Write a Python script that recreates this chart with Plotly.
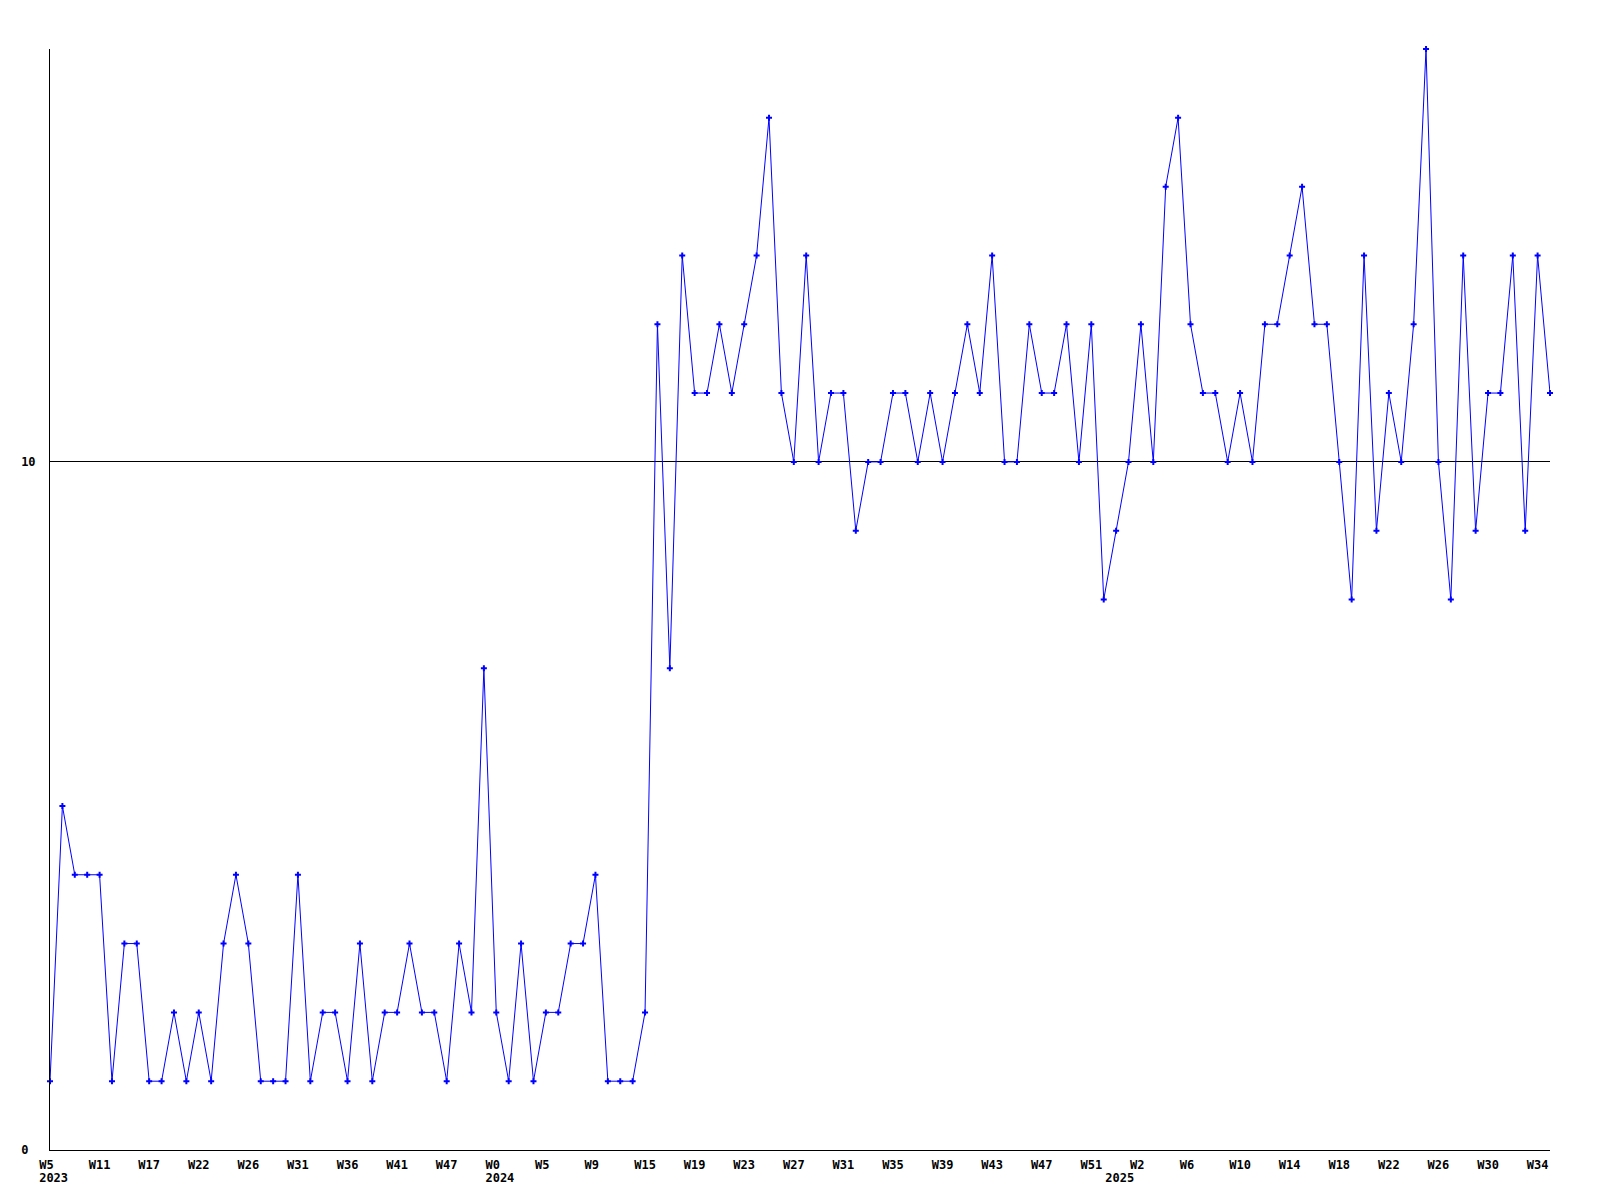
import plotly.graph_objects as go

# Weekly values (one point per sample, in order)
values_2023 = [1, 5, 4, 4, 4, 1, 3, 3, 1, 1, 2, 1, 2, 1, 3, 4, 3, 1, 1, 1, 4, 1, 2, 2, 1, 3,
               1, 2, 2, 3, 2, 2, 1, 3, 2, 7]
values_2024 = [2, 1, 3, 1, 2, 2, 3, 3, 4, 1, 1, 1, 2,
               12, 7, 13, 11, 11, 12, 11, 12, 13, 15, 11, 10, 13, 10, 11, 11, 9, 10, 10, 11, 11,
               10, 11, 10, 11, 12, 11, 13, 10, 10, 12, 11, 11, 12, 10, 12, 8]
values_2025 = [9, 10, 12, 10, 14, 15, 12, 11, 11, 10, 11, 10,
               12, 12, 13, 14, 12, 12, 10, 8, 13, 9, 11, 10, 12, 16, 10, 8, 13, 9, 11, 11, 13, 9, 13, 11]
values = values_2023 + values_2024 + values_2025

# Tick labels: one every 4 samples
week_labels = ["W5", "W11", "W17", "W22", "W26", "W31", "W36", "W41", "W47",
               "W0", "W5", "W9", "W15", "W19", "W23", "W27", "W31", "W35", "W39", "W43", "W47", "W51",
               "W2", "W6", "W10", "W14", "W18", "W22", "W26", "W30", "W34"]
tick_step = 4
year_labels = ["2023", "2024", "2025"]
year_positions = [0, 36, 86]

x = list(range(len(values)))
tickvals = [i * tick_step for i in range(len(week_labels))]
ticktext = [w + "\u00a0" * (3 - len(w)) for w in week_labels]

FONT = dict(family="DejaVu Sans Mono", size=12, color="black", weight="bold")
BLUE = "#0000ff"

fig = go.Figure()
fig.add_trace(go.Scatter(
    x=x, y=values, mode="lines+markers",
    line=dict(color=BLUE, width=1),
    marker=dict(symbol="cross", size=5, color=BLUE, line=dict(width=0)),
    cliponaxis=False, showlegend=False, hoverinfo="x+y",
))
fig.add_trace(go.Scatter(
    x=[0, len(values) - 1], y=[None, None], xaxis="x2", mode="lines",
    showlegend=False, hoverinfo="skip",
))

xr = [0, len(values) - 1]
fig.update_layout(
    width=1600, height=1200,
    margin=dict(l=42, r=58, t=41, b=58, pad=0),
    paper_bgcolor="white", plot_bgcolor="white",
    xaxis=dict(
        range=xr, tickmode="array", tickvals=tickvals, ticktext=ticktext,
        showgrid=False, zeroline=False, showline=True, linecolor="black", linewidth=1,
        ticks="", tickangle=0, tickfont=FONT, ticklabelstandoff=4,
    ),
    xaxis2=dict(
        range=xr, overlaying="x", anchor="y", side="bottom",
        tickmode="array", tickvals=year_positions,
        ticktext=["\u00a0" + y for y in year_labels],
        showgrid=False, zeroline=False, showline=False,
        ticks="", tickangle=0, tickfont=FONT, ticklabelstandoff=19,
    ),
    yaxis=dict(
        range=[0, 16], tickmode="array", tickvals=[0, 10], ticktext=["0\u00a0", "10"],
        showgrid=True, gridcolor="black", gridwidth=1,
        zeroline=False, showline=True, linecolor="black", linewidth=1,
        ticks="", tickfont=FONT, ticklabelstandoff=11,
    ),
)

fig.write_html("out.html")
